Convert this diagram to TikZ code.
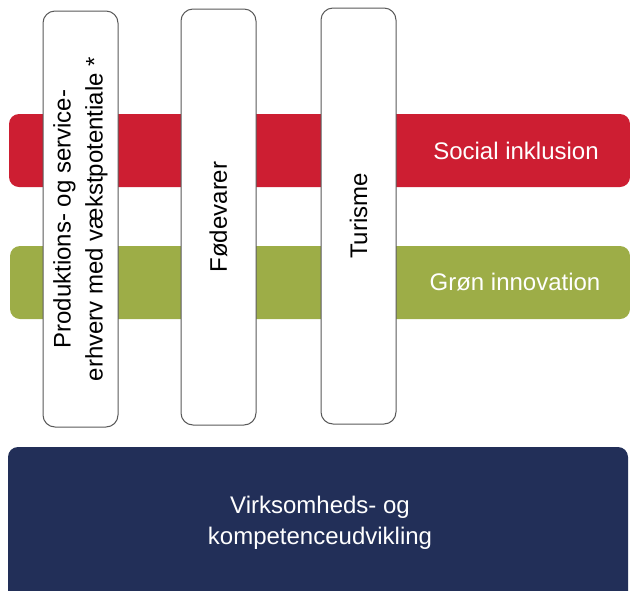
\documentclass[tikz,border=0pt]{standalone}
\usepackage{fontspec}
\setmainfont{Liberation Sans}
\definecolor{socialred}{RGB}{205,30,50}
\definecolor{groenolive}{RGB}{157,173,71}
\definecolor{navyblue}{RGB}{34,47,88}

\begin{document}
\begin{tikzpicture}[x=1pt, y=-1pt,
		band/.style={rounded corners=10pt, inner sep=0pt, minimum height=73pt},
		pillar/.style={draw=black!65, line width=1pt, fill=white, rounded corners=12pt,
			rotate=90, minimum width=416pt, minimum height=75pt, inner sep=0pt,
			font=\fontsize{24}{32}\selectfont, align=center},
		bandtext/.style={text=white, font=\fontsize{24}{31}\selectfont, align=center}]
			\useasboundingbox (0,0) rectangle (630,590);
			\clip (0,0) rectangle (630,590);
			
			% themes across
			\node[band, fill=socialred, minimum width=621pt] (social) at (319.5,150.5) {};
			\node[band, fill=groenolive, minimum width=620pt] (groen) at (320,282.5) {};
			\node[bandtext] (socialtxt) at (516,150.5) {Social inklusion};
			\node[bandtext] (groentxt) at (515,282.5) {Grøn innovation};
			
			% sectors
			\node[pillar] (produktion) at (80.5,219) {Produktions- og service-\\erhverv med vækstpotentiale *};
			\node[pillar] (foedevarer) at (218.5,217) {Fødevarer};
			\node[pillar] (turisme) at (358.5,216) {Turisme};
			
			% base
			\node[band, fill=navyblue, minimum width=620pt, minimum height=163pt] (virksomhed) at (318,528.5) {};
			\node[bandtext] (virksomhedtxt) at (320,523) {Virksomheds- og\\kompetenceudvikling};
		\end{tikzpicture}
\end{document}
